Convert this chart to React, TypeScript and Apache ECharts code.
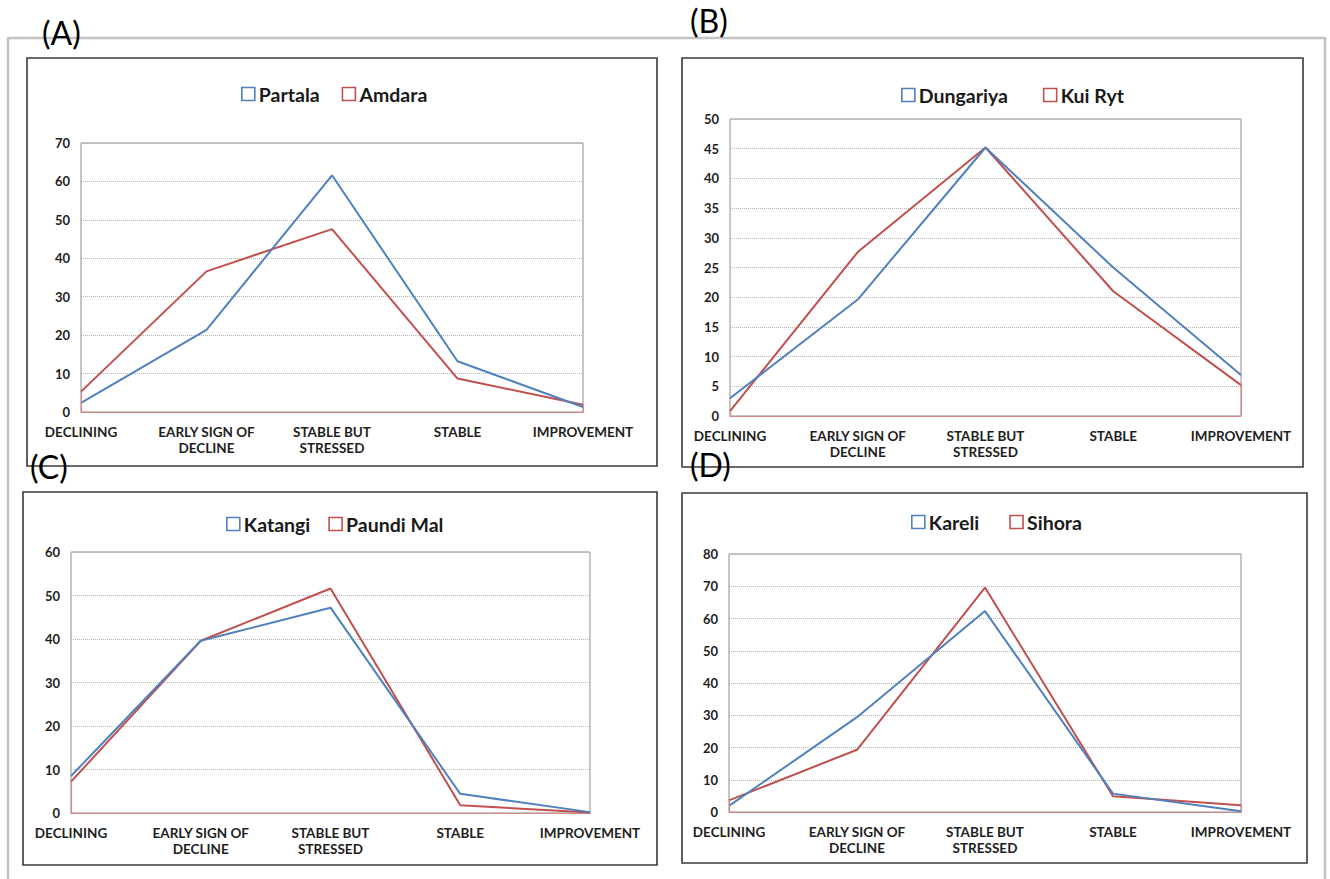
import React, { useEffect, useRef } from "react";
import * as echarts from "echarts";

const categories = ["DECLINING", "EARLY SIGN OF\nDECLINE", "STABLE BUT\nSTRESSED", "STABLE", "IMPROVEMENT"];

const partala = [2.4, 21.4, 61.6, 13.2, 1.3];
const amdara = [5.3, 36.6, 47.6, 8.7, 1.9];
const dungariya = [3.0, 19.6, 45.2, 25.0, 6.9];
const kuiRyt = [0.8, 27.6, 45.2, 21.0, 5.2];
const katangi = [8.5, 39.6, 47.2, 4.4, 0.2];
const paundiMal = [7.2, 39.6, 51.6, 1.8, 0.1];
const kareli = [1.9, 29.4, 62.3, 5.7, 0.2];
const sihora = [3.6, 19.3, 69.6, 4.9, 2.1];

const panelLabels = ["(A)", "(B)", "(C)", "(D)"];
const yMax = [70, 50, 60, 80];
const yStep = [10, 5, 10, 10];

const BLUE = "#4f81bd";
const RED = "#c0504d";
const FONT = "Lato, 'Open Sans', sans-serif";

const panels = [
  { names: ["Partala", "Amdara"], data: [partala, amdara], grid: { left: 81, top: 143, width: 502, height: 269 }, legend: { left: 241, top: 84, gap: 22 }, box: [27, 58, 630, 408], label: [42, 32] },
  { names: ["Dungariya", "Kui Ryt"], data: [dungariya, kuiRyt], grid: { left: 730, top: 119, width: 511, height: 297 }, legend: { left: 901, top: 85, gap: 35 }, box: [682, 58, 621, 409], label: [690, 20] },
  { names: ["Katangi", "Paundi Mal"], data: [katangi, paundiMal], grid: { left: 71, top: 552, width: 519, height: 261 }, legend: { left: 226, top: 514, gap: 18 }, box: [23, 492, 634, 373], label: [30, 466] },
  { names: ["Kareli", "Sihora"], data: [kareli, sihora], grid: { left: 729, top: 554, width: 512, height: 258 }, legend: { left: 911, top: 512, gap: 30 }, box: [682, 493, 625, 370], label: [690, 464] },
];

export default function App() {
  const ref = useRef<HTMLDivElement>(null);
  useEffect(() => {
    const chart = echarts.init(ref.current!, null, { renderer: "svg" });
    const grid: any[] = [];
    const xAxis: any[] = [];
    const yAxis: any[] = [];
    const legend: any[] = [];
    const series: any[] = [];
    const graphic: any[] = [
      { type: "rect", shape: { x: 8, y: 38, width: 1317, height: 860 }, style: { fill: "none", stroke: "#c4c4c4", lineWidth: 2.5 }, z: 1 },
    ];
    panels.forEach((p, i) => {
      grid.push({ ...p.grid, show: true, borderColor: "#8c8c8c", borderWidth: 1, backgroundColor: "transparent" });
      xAxis.push({
        type: "category",
        gridIndex: i,
        data: categories,
        boundaryGap: false,
        axisTick: { show: false },
        axisLine: { show: true, lineStyle: { color: "#d58a88", width: 1.2 } },
        axisLabel: { color: "#1e1e1e", fontFamily: FONT, fontWeight: "bold", fontSize: 13.5, margin: 12, lineHeight: 16, interval: 0 },
        splitLine: { show: false },
      });
      yAxis.push({
        type: "value",
        gridIndex: i,
        min: 0,
        max: yMax[i],
        interval: yStep[i],
        axisLine: { show: false },
        axisTick: { show: false },
        axisLabel: { color: "#1e1e1e", fontFamily: FONT, fontWeight: "bold", fontSize: 13, margin: 11 },
        splitLine: { show: true, lineStyle: { color: "#b4b4b4", type: "dotted", width: 1 } },
      });
      legend.push({
        left: p.legend.left,
        top: p.legend.top,
        padding: 0,
        itemGap: p.legend.gap,
        itemWidth: 13,
        itemHeight: 13,
        icon: "rect",
        selectedMode: false,
        textStyle: { fontFamily: FONT, fontWeight: "bold", fontSize: 19.5, color: "#1a1a1a", padding: [0, 0, 0, -1] },
        data: [
          { name: p.names[0], itemStyle: { color: "#ffffff", borderColor: BLUE, borderWidth: 1.6 } },
          { name: p.names[1], itemStyle: { color: "#ffffff", borderColor: RED, borderWidth: 1.6 } },
        ],
      });
      const red = p.data[1];
      series.push({
        name: p.names[1],
        type: "line",
        xAxisIndex: i,
        yAxisIndex: i,
        data: red,
        symbol: "none",
        color: RED,
        lineStyle: { color: RED, width: 2 },
        z: 3,
        markLine: {
          silent: true,
          symbol: "none",
          label: { show: false },
          lineStyle: { color: "#d58a88", width: 1.2, type: "solid" },
          data: [
            [{ coord: [categories[0], 0] }, { coord: [categories[0], red[0]] }],
            [{ coord: [categories[4], 0] }, { coord: [categories[4], red[4]] }],
          ],
        },
      });
      series.push({
        name: p.names[0],
        type: "line",
        xAxisIndex: i,
        yAxisIndex: i,
        data: p.data[0],
        symbol: "none",
        color: BLUE,
        lineStyle: { color: BLUE, width: 2 },
        z: 4,
      });
      const [bx, by, bw, bh] = p.box;
      graphic.push({ type: "rect", shape: { x: bx, y: by, width: bw, height: bh }, style: { fill: "none", stroke: "#3a3a3a", lineWidth: 1.6 }, z: 2 });
      graphic.push({
        type: "text",
        x: p.label[0],
        y: p.label[1],
        style: { text: panelLabels[i], fontFamily: FONT, fontSize: 32, fill: "#000", verticalAlign: "middle" },
        z: 10,
      });
    });
    chart.setOption({
      animation: false,
      backgroundColor: "#ffffff",
      grid,
      xAxis,
      yAxis,
      legend,
      series,
      graphic,
    });
    return () => chart.dispose();
  }, []);
  return <div ref={ref} style={{ position: "absolute", left: 0, top: 0, width: 1330, height: 879 }} />;
}
